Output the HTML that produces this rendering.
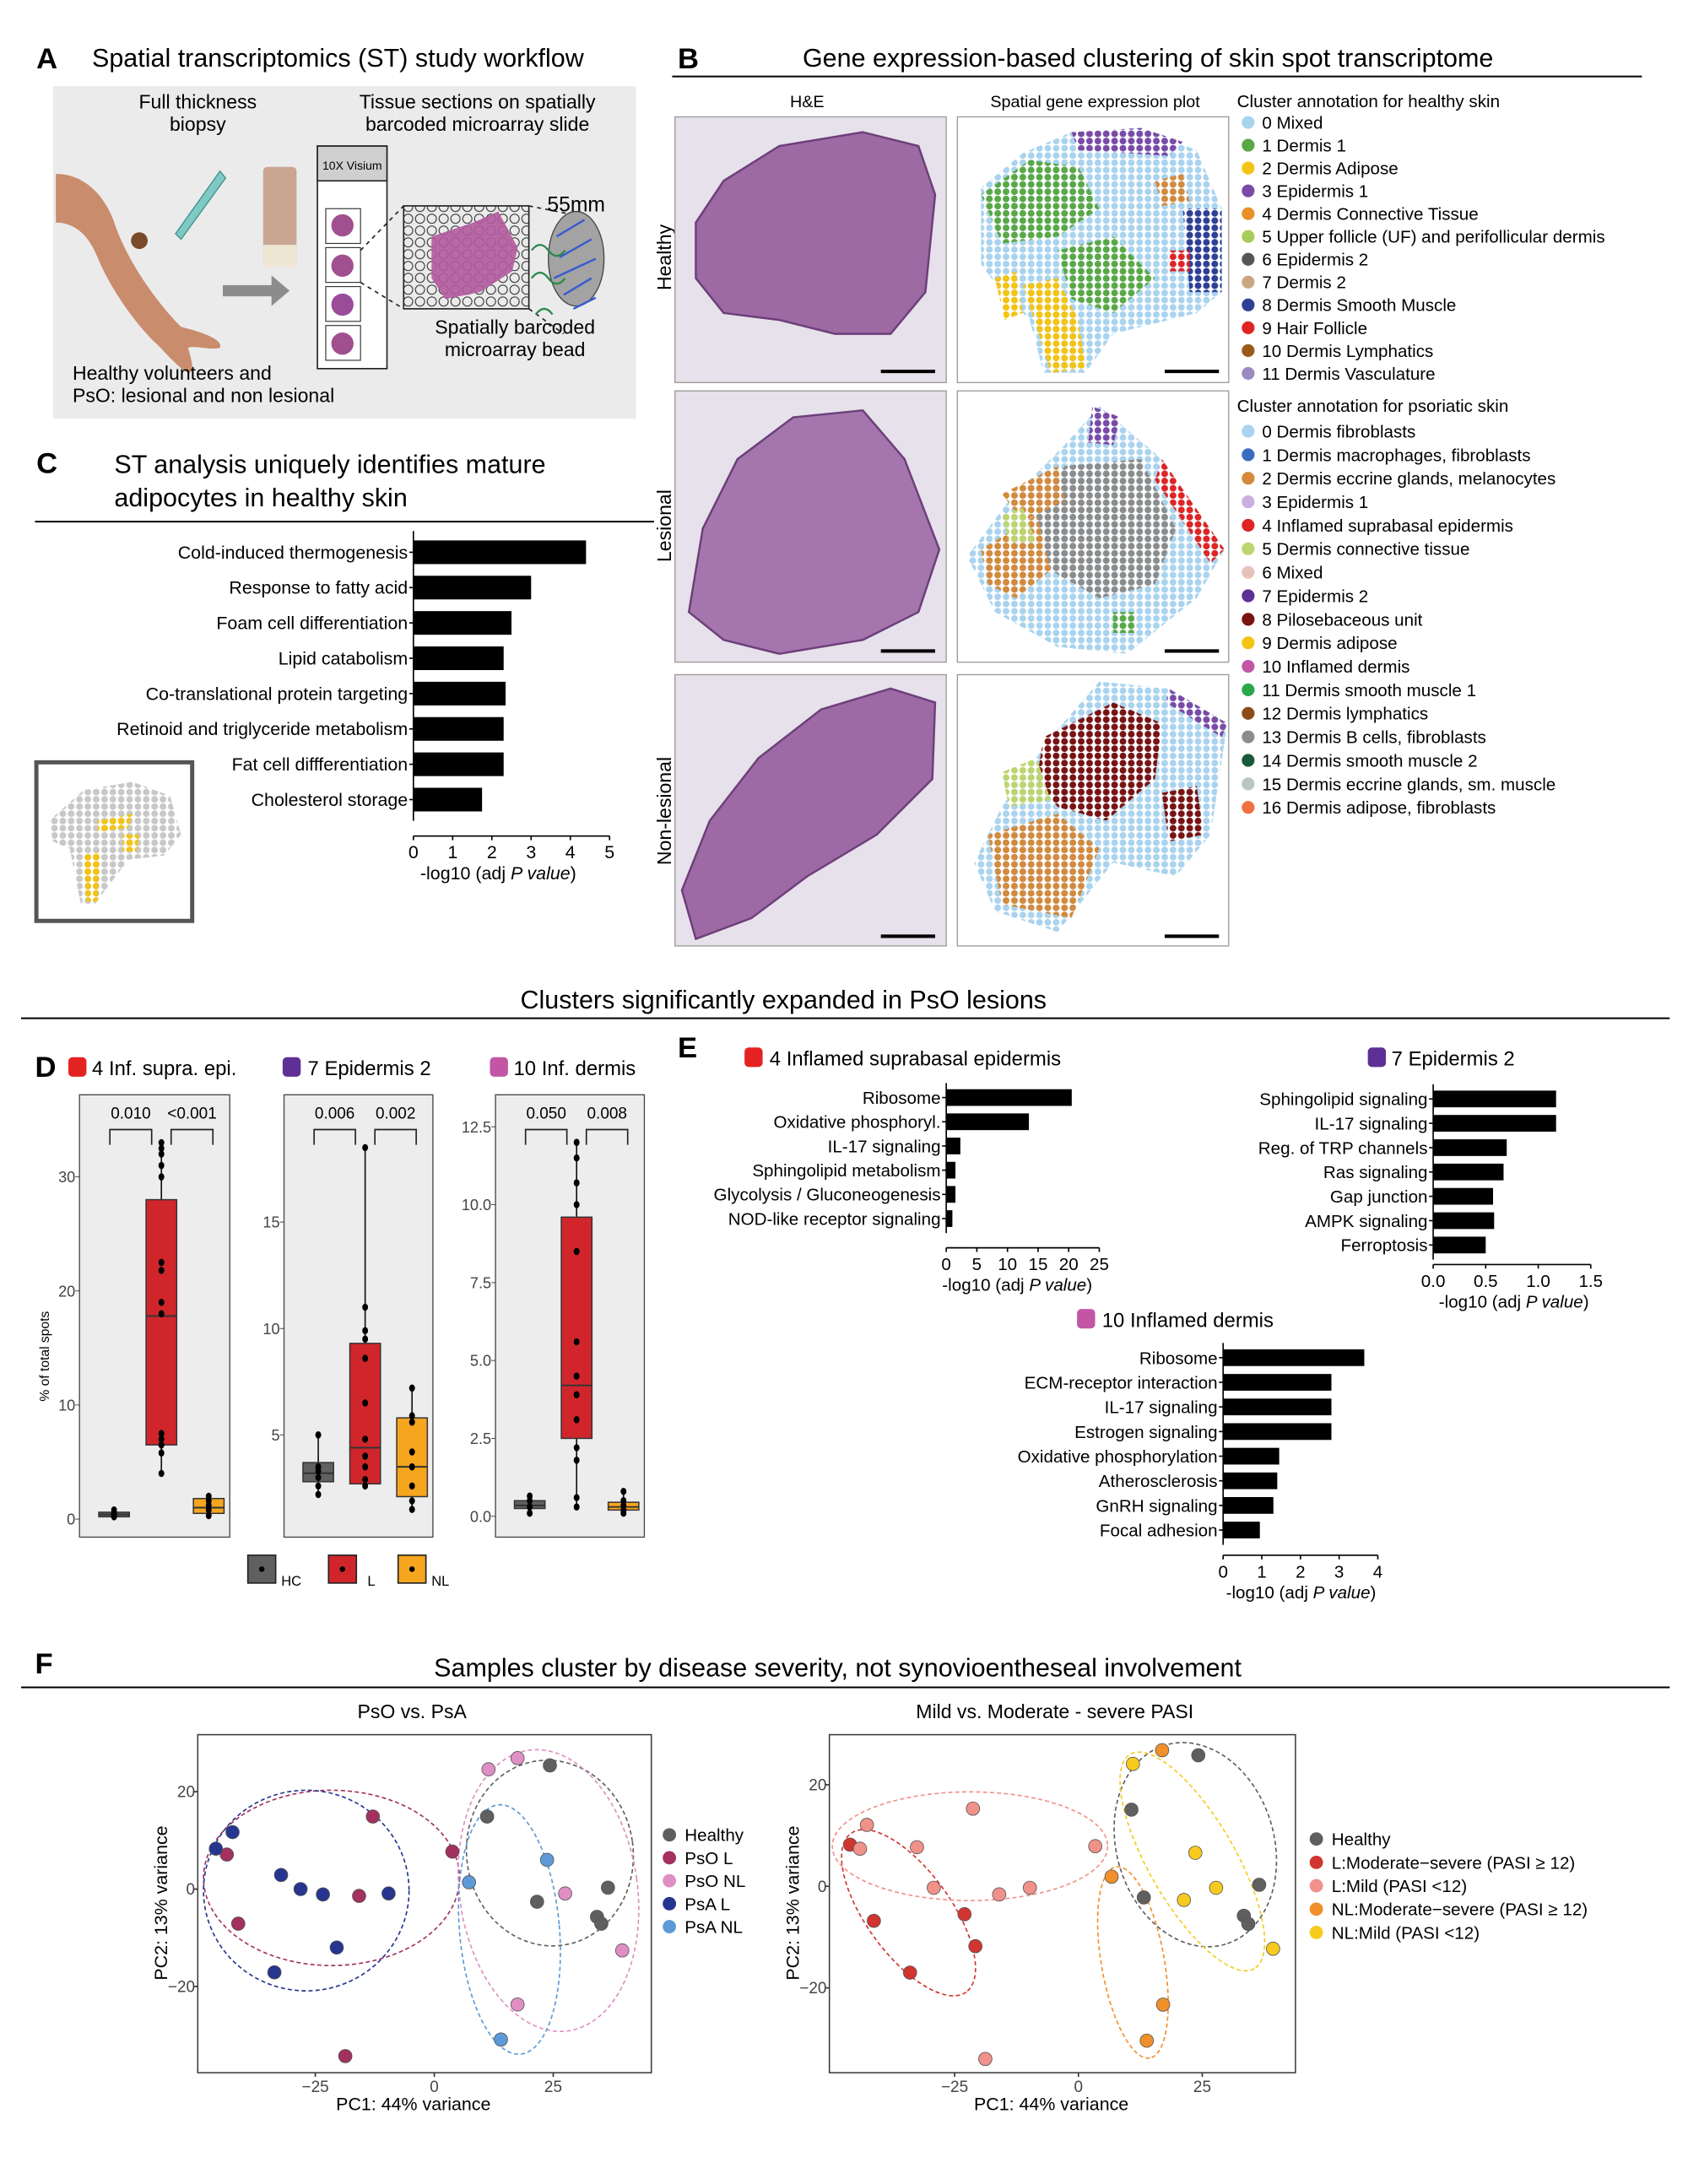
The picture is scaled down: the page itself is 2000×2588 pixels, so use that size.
<!DOCTYPE html>
<html><head><meta charset="utf-8"><style>
html,body{margin:0;padding:0;background:#fff}
svg{display:block;font-family:"Liberation Sans",Arial,sans-serif}
</style></head><body>
<svg id="fig" width="2000" height="2588" viewBox="0 0 1213 1570" xmlns="http://www.w3.org/2000/svg">
<defs>
<pattern id="p-lb" width="6" height="5.2" patternUnits="userSpaceOnUse"><circle cx="3" cy="2.6" r="2.4" fill="#a9d3ee"/></pattern>
<pattern id="p-gr" width="6" height="5.2" patternUnits="userSpaceOnUse"><circle cx="3" cy="2.6" r="2.4" fill="#5aa845"/></pattern>
<pattern id="p-ye" width="6" height="5.2" patternUnits="userSpaceOnUse"><circle cx="3" cy="2.6" r="2.4" fill="#f3c413"/></pattern>
<pattern id="p-nv" width="6" height="5.2" patternUnits="userSpaceOnUse"><circle cx="3" cy="2.6" r="2.4" fill="#2f3f95"/></pattern>
<pattern id="p-pu" width="6" height="5.2" patternUnits="userSpaceOnUse"><circle cx="3" cy="2.6" r="2.4" fill="#7a4aa6"/></pattern>
<pattern id="p-gy" width="6" height="5.2" patternUnits="userSpaceOnUse"><circle cx="3" cy="2.6" r="2.4" fill="#8c8c8c"/></pattern>
<pattern id="p-lg" width="6" height="5.2" patternUnits="userSpaceOnUse"><circle cx="3" cy="2.6" r="2.4" fill="#c8c8c8"/></pattern>
<pattern id="p-or" width="6" height="5.2" patternUnits="userSpaceOnUse"><circle cx="3" cy="2.6" r="2.4" fill="#d48a3c"/></pattern>
<pattern id="p-rd" width="6" height="5.2" patternUnits="userSpaceOnUse"><circle cx="3" cy="2.6" r="2.4" fill="#e02424"/></pattern>
<pattern id="p-dr" width="6" height="5.2" patternUnits="userSpaceOnUse"><circle cx="3" cy="2.6" r="2.4" fill="#7a1212"/></pattern>
<pattern id="p-ol" width="6" height="5.2" patternUnits="userSpaceOnUse"><circle cx="3" cy="2.6" r="2.4" fill="#bcd56e"/></pattern>
<pattern id="p-grid" width="8.5" height="8.5" patternUnits="userSpaceOnUse"><circle cx="4.25" cy="4.25" r="3.3" fill="none" stroke="#222" stroke-width="0.6"/></pattern>
</defs>

<!-- Panel A -->
<text x="26" y="49" font-size="21" font-weight="bold">A</text>
<text x="66" y="48" font-size="18.5">Spatial transcriptomics (ST) study workflow</text>
<rect x="38" y="62" width="419" height="239" fill="#ebebec"/>
<text x="142" y="78" font-size="14" text-anchor="middle"><tspan x="142">Full thickness</tspan><tspan x="142" dy="16">biopsy</tspan></text>
<text x="343" y="78" font-size="14" text-anchor="middle"><tspan x="343">Tissue sections on spatially</tspan><tspan x="343" dy="16">barcoded microarray slide</tspan></text>
<path d="M40,125 C60,125 75,140 82,160 C92,190 115,220 130,235 C150,240 160,245 158,250 C150,252 140,248 135,250 C138,260 140,268 135,268 C125,262 118,252 110,245 C95,230 78,205 70,185 C62,165 50,160 40,160 Z" fill="#c98c6c"/>
<circle cx="100" cy="173" r="6" fill="#7a4a2a"/>
<path d="M158,123 L162,128 L130,172 L126,168 Z" fill="#7fc9c4" stroke="#3f8f8a" stroke-width="0.8"/>
<rect x="189" y="120" width="24" height="72" rx="3" fill="#c9a693"/>
<rect x="189" y="176" width="24" height="16" fill="#f0e6d4"/>
<path d="M160,205 L195,205 L195,198 L208,209 L195,220 L195,213 L160,213 Z" fill="#8c8c8c"/>
<rect x="228" y="105" width="50" height="160" fill="#fff" stroke="#222" stroke-width="1"/>
<rect x="228" y="105" width="50" height="25" fill="#cfcfcf" stroke="#222" stroke-width="1"/>
<text x="253" y="122" font-size="8.5" text-anchor="middle">10X Visium</text>
<g>
<rect x="234" y="150" width="25" height="25" fill="#fff" stroke="#333" stroke-width="0.7"/><rect x="234" y="178" width="25" height="25" fill="#fff" stroke="#333" stroke-width="0.7"/><rect x="234" y="206" width="25" height="25" fill="#fff" stroke="#333" stroke-width="0.7"/><rect x="234" y="234" width="25" height="25" fill="#fff" stroke="#333" stroke-width="0.7"/>
<circle cx="246" cy="162" r="8" fill="#a0508f"/><circle cx="246" cy="191" r="8" fill="#a0508f"/><circle cx="246" cy="219" r="8" fill="#9a4c98"/><circle cx="246" cy="247" r="8" fill="#a0508f"/>
</g>
<path d="M259,180 L290,148 M259,203 L290,222 M380,148 L415,155 M380,222 L405,240" stroke="#222" stroke-dasharray="3,3" stroke-width="1" fill="none"/>
<rect x="290" y="148" width="90" height="74" fill="url(#p-grid)" stroke="#222" stroke-width="1"/>
<path d="M310,170 L340,160 L358,152 L372,178 L368,195 L345,210 L320,215 L310,200 Z" fill="#b45a9e" opacity="0.9"/>
<ellipse cx="414" cy="186" rx="20" ry="34" fill="#a3a3a3" stroke="#444" stroke-width="0.8"/>
<path d="M400,170 L420,158 M402,185 L425,172 M398,200 L428,186 M405,212 L425,200 M412,222 L428,214" stroke="#3a5bd0" stroke-width="1.5"/>
<path d="M382,180 q6,-8 12,0 q6,8 12,0 M382,200 q6,-8 12,0 q6,8 12,0 M385,226 q6,-8 12,0" stroke="#2a8a4a" stroke-width="1.4" fill="none"/>
<text x="414" y="152" font-size="15" text-anchor="middle">55mm</text>
<text x="370" y="240" font-size="14" text-anchor="middle"><tspan x="370">Spatially barcoded</tspan><tspan x="370" dy="16">microarray bead</tspan></text>
<text x="52" y="273" font-size="14"><tspan x="52">Healthy volunteers and</tspan><tspan x="52" dy="16">PsO: lesional and non lesional</tspan></text>

<!-- Panel B -->
<text x="487" y="49" font-size="21" font-weight="bold">B</text>
<text x="825" y="48" font-size="18.5" text-anchor="middle">Gene expression-based clustering of skin spot transcriptome</text>
<line x1="483" y1="55" x2="1180" y2="55" stroke="#000" stroke-width="1.2"/>
<text x="580" y="77" font-size="12" text-anchor="middle">H&amp;E</text>
<text x="787" y="77" font-size="12" text-anchor="middle">Spatial gene expression plot</text>
<text transform="translate(482,185) rotate(-90)" font-size="14" text-anchor="middle">Healthy</text>
<text transform="translate(482,378) rotate(-90)" font-size="14" text-anchor="middle">Lesional</text>
<text transform="translate(482,583) rotate(-90)" font-size="14" text-anchor="middle">Non-lesional</text>

<g>
<rect x="485" y="84" width="195" height="191" fill="#e6e1ea" stroke="#999" stroke-width="0.8"/>
<polygon points="500,160 520,130 560,105 620,95 660,105 672,140 665,210 640,240 600,240 560,230 520,225 500,200" fill="#9d6aa3" stroke="#6d3f7a" stroke-width="1.5"/>
<line x1="633" y1="267" x2="672" y2="267" stroke="#000" stroke-width="2.5"/>
</g>
<g>
<rect x="485" y="281" width="195" height="195" fill="#e6e1ea" stroke="#999" stroke-width="0.8"/>
<polygon points="495,440 505,380 530,330 570,300 620,295 650,330 675,395 660,440 620,460 560,470 520,460" fill="#a575ae" stroke="#6d3f7a" stroke-width="1.5"/>
<line x1="633" y1="468" x2="672" y2="468" stroke="#000" stroke-width="2.5"/>
</g>
<g>
<rect x="485" y="485" width="195" height="195" fill="#e6e1ea" stroke="#999" stroke-width="0.8"/>
<polygon points="490,640 510,590 545,545 590,510 640,495 672,505 670,560 630,600 580,630 540,660 500,675" fill="#9e6aa5" stroke="#6d3f7a" stroke-width="1.5"/>
<line x1="633" y1="673" x2="672" y2="673" stroke="#000" stroke-width="2.5"/>
</g>
<g>
<rect x="688" y="84" width="195" height="191" fill="#fff" stroke="#999" stroke-width="0.8"/>
<polygon points="705,135 735,110 770,95 820,92 860,108 878,150 878,210 860,225 800,240 780,268 750,268 740,230 720,210 705,190" fill="url(#p-lb)"/>
<polygon points="705,140 740,115 775,120 790,150 760,170 720,175" fill="url(#p-gr)"/>
<polygon points="760,180 800,170 830,200 800,225 770,215" fill="url(#p-gr)"/>
<polygon points="735,205 760,200 775,230 780,265 755,268 745,235" fill="url(#p-ye)"/>
<polygon points="715,200 730,195 735,225 722,230" fill="url(#p-ye)"/>
<polygon points="850,150 878,150 878,210 855,210" fill="url(#p-nv)"/>
<polygon points="770,95 820,92 850,102 840,112 775,108" fill="url(#p-pu)"/>
<polygon points="840,180 855,180 855,195 840,195" fill="url(#p-rd)"/>
<polygon points="830,130 850,125 855,145 835,148" fill="url(#p-or)"/>
<line x1="837" y1="267" x2="876" y2="267" stroke="#000" stroke-width="2.5"/>
</g>
<g>
<rect x="688" y="281" width="195" height="195" fill="#fff" stroke="#999" stroke-width="0.8"/>
<polygon points="790,292 835,330 880,395 860,430 810,470 760,465 715,440 695,400 725,360 765,320" fill="url(#p-lb)"/>
<polygon points="765,335 820,330 845,380 830,420 790,430 755,410 745,370" fill="url(#p-gy)"/>
<polygon points="705,395 745,370 755,410 730,430 710,420" fill="url(#p-or)"/>
<polygon points="720,355 760,335 765,360 735,375" fill="url(#p-or)"/>
<polygon points="835,330 880,395 870,405 830,345" fill="url(#p-rd)"/>
<polygon points="785,292 805,300 800,320 782,318" fill="url(#p-pu)"/>
<polygon points="720,370 735,365 745,390 725,390" fill="url(#p-ol)"/>
<polygon points="800,440 815,440 815,455 800,455" fill="url(#p-gr)"/>
<line x1="837" y1="468" x2="876" y2="468" stroke="#000" stroke-width="2.5"/>
</g>
<g>
<rect x="688" y="485" width="195" height="195" fill="#fff" stroke="#999" stroke-width="0.8"/>
<polygon points="790,490 840,495 882,520 870,600 845,630 800,620 760,670 715,655 700,620 720,580 755,530" fill="url(#p-lb)"/>
<polygon points="750,530 800,505 835,520 830,560 795,590 760,580 745,560" fill="url(#p-dr)"/>
<polygon points="835,570 860,565 865,600 840,605" fill="url(#p-dr)"/>
<polygon points="710,600 760,585 790,610 770,660 720,650" fill="url(#p-or)"/>
<polygon points="720,555 745,545 755,575 725,580" fill="url(#p-ol)"/>
<polygon points="840,495 882,520 878,530 838,505" fill="url(#p-pu)"/>
<line x1="837" y1="673" x2="876" y2="673" stroke="#000" stroke-width="2.5"/>
</g>
<g id="legends"></g>

<!-- Panel C -->
<text x="26" y="340" font-size="21" font-weight="bold">C</text>
<text x="82" y="340" font-size="18.5"><tspan x="82">ST analysis uniquely identifies mature</tspan><tspan x="82" dy="24">adipocytes in healthy skin</tspan></text>
<line x1="25" y1="375" x2="470" y2="375" stroke="#000" stroke-width="1.2"/>
<g>
<rect x="26" y="548" width="112" height="114" fill="#fff" stroke="#555" stroke-width="3"/>
<polygon points="35,590 60,568 95,562 122,572 130,600 118,615 92,618 68,650 58,650 50,610 38,605" fill="url(#p-lg)"/>
<polygon points="70,590 95,585 92,595 70,598" fill="url(#p-ye)"/>
<polygon points="60,615 72,612 70,648 62,648" fill="url(#p-ye)"/>
<polygon points="88,600 100,600 98,612 88,612" fill="url(#p-ye)"/>
</g>

<!-- Middle title -->
<text x="563" y="725" font-size="18.5" text-anchor="middle">Clusters significantly expanded in PsO lesions</text>
<line x1="15" y1="732" x2="1200" y2="732" stroke="#000" stroke-width="1.2"/>

<!-- Panel D -->
<text x="25" y="774" font-size="21" font-weight="bold">D</text>
<rect x="49" y="760" width="13" height="14" rx="3" fill="#e42222"/>
<text x="66" y="773" font-size="14.5">4 Inf. supra. epi.</text>
<rect x="203" y="760" width="13" height="14" rx="3" fill="#5e2f95"/>
<text x="221" y="773" font-size="14.5">7 Epidermis 2</text>
<rect x="352" y="760" width="13" height="14" rx="3" fill="#c256a5"/>
<text x="369" y="773" font-size="14.5">10 Inf. dermis</text>
<text transform="translate(35,975) rotate(-90)" font-size="9.5" text-anchor="middle">% of total spots</text>
<g id="boxes"></g>
<g>
<rect x="178" y="1118" width="20" height="20" fill="#606060" stroke="#222"/><circle cx="188" cy="1128" r="2" fill="#000"/><text x="202" y="1140" font-size="10">HC</text>
<rect x="236" y="1118" width="20" height="20" fill="#d0262b" stroke="#222"/><circle cx="246" cy="1128" r="2" fill="#000"/><text x="264" y="1140" font-size="10">L</text>
<rect x="286" y="1118" width="20" height="20" fill="#f6a51e" stroke="#222"/><circle cx="296" cy="1128" r="2" fill="#000"/><text x="310" y="1140" font-size="10">NL</text>
</g>

<!-- Panel E -->
<text x="487" y="760" font-size="21" font-weight="bold">E</text>
<rect x="535" y="753" width="13" height="14" rx="3" fill="#e42222"/>
<text x="553" y="766" font-size="14.5">4 Inflamed suprabasal epidermis</text>
<rect x="983" y="753" width="13" height="14" rx="3" fill="#5e2f95"/>
<text x="1000" y="766" font-size="14.5">7 Epidermis 2</text>
<rect x="774" y="941" width="13" height="14" rx="3" fill="#c256a5"/>
<text x="792" y="954" font-size="14.5">10 Inflamed dermis</text>
<g id="bars"></g>

<!-- Panel F -->
<text x="25" y="1203" font-size="21" font-weight="bold">F</text>
<text x="602" y="1205" font-size="18.5" text-anchor="middle">Samples cluster by disease severity, not synovioentheseal involvement</text>
<line x1="15" y1="1213" x2="1200" y2="1213" stroke="#000" stroke-width="1.2"/>
<text x="296" y="1235" font-size="14" text-anchor="middle">PsO vs. PsA</text>
<text x="758" y="1235" font-size="14" text-anchor="middle">Mild vs. Moderate - severe PASI</text>
<g id="pca"></g>
</svg>

<script>
const NS='http://www.w3.org/2000/svg';
function mk(tag,attrs,parent){const e=document.createElementNS(NS,tag);for(const k in attrs)e.setAttribute(k,attrs[k]);parent.appendChild(e);return e;}
function tx(parent,x,y,s,size,anchor){const e=mk('text',{x:x,y:y,'font-size':size,'text-anchor':anchor||'start'},parent);e.textContent=s;return e;}

/* ---------- Legends for panel B ---------- */
const healthyClusters=['0 Mixed','1 Dermis 1','2 Dermis Adipose','3 Epidermis 1','4 Dermis Connective Tissue','5 Upper follicle (UF) and perifollicular dermis','6 Epidermis 2','7 Dermis 2','8 Dermis Smooth Muscle','9 Hair Follicle','10 Dermis Lymphatics','11 Dermis Vasculature'];
const healthyColors=['#a9d3ee','#5aa845','#f3c413','#7a4aa6','#e8902a','#a8cc5a','#555555','#c9a583','#2f3f95','#e02424','#9a5a1a','#9a8ac0'];
const psoClusters=['0 Dermis fibroblasts','1 Dermis macrophages, fibroblasts','2 Dermis eccrine glands, melanocytes','3 Epidermis 1','4 Inflamed suprabasal epidermis','5 Dermis connective tissue','6 Mixed','7 Epidermis 2','8 Pilosebaceous unit','9 Dermis adipose','10 Inflamed dermis','11 Dermis smooth muscle 1','12 Dermis lymphatics','13 Dermis B cells, fibroblasts','14 Dermis smooth muscle 2','15 Dermis eccrine glands, sm. muscle','16 Dermis adipose, fibroblasts'];
const psoColors=['#a9d3ee','#3a6cc0','#d48a3c','#c9b0e0','#e02424','#bcd56e','#e8c2b8','#5e2f95','#7a1212','#f3c413','#c256a5','#2aa84a','#8a4a1a','#8c8c8c','#1a5a3a','#b8c8c0','#f07040'];
const lg=document.getElementById('legends');
let t=tx(lg,889,77,'Cluster annotation for healthy skin',12.5);


healthyClusters.forEach((c,i)=>{const y=88+i*16.4;
 const d=mk('circle',{cx:897,cy:y,r:4.6,fill:healthyColors[i]},lg);
 
 
 const l=tx(lg,907,y+4.5,c,12.5);
 
 });
t=tx(lg,889,296,'Cluster annotation for psoriatic skin',12.5);


psoClusters.forEach((c,i)=>{const y=310+i*16.9;
 const d=mk('circle',{cx:897,cy:y,r:4.6,fill:psoColors[i]},lg);
 
 
 const l=tx(lg,907,y+4.5,c,12.5);
 
 });

/* ---------- Bar charts ---------- */
const cLabels=['Cold-induced thermogenesis','Response to fatty acid','Foam cell differentiation','Lipid catabolism','Co-translational protein targeting','Retinoid and triglyceride metabolism','Fat cell diffferentiation','Cholesterol storage'];
const cValues=[4.4,3.0,2.5,2.3,2.35,2.3,2.3,1.75];
const cTicks=[0,1,2,3,4,5];
const e4Labels=['Ribosome','Oxidative phosphoryl.','IL-17 signaling','Sphingolipid metabolism','Glycolysis / Gluconeogenesis','NOD-like receptor signaling'];
const e4Values=[20.5,13.5,2.3,1.5,1.5,1.0];
const e4Ticks=[0,5,10,15,20,25];
const e7Labels=['Sphingolipid signaling','IL-17 signaling','Reg. of TRP channels','Ras signaling','Gap junction','AMPK signaling','Ferroptosis'];
const e7Values=[1.17,1.17,0.7,0.67,0.57,0.58,0.5];
const e7Ticks=[0,0.5,1.0,1.5];
const e7TickLabels=['0.0','0.5','1.0','1.5'];
const e10Labels=['Ribosome','ECM-receptor interaction','IL-17 signaling','Estrogen signaling','Oxidative phosphorylation','Atherosclerosis','GnRH signaling','Focal adhesion'];
const e10Values=[3.65,2.8,2.8,2.8,1.45,1.4,1.3,0.95];
const e10Ticks=[0,1,2,3,4];

const bg=document.getElementById('bars');
function barChart(nm,labels,vals,ticks,tickLabels,o){
 const g=mk('g',{},bg);
 
 
 const sx=v=>o.x0+v*o.px;
 const top=o.y0-o.dy*0.6,bot=o.y0+o.dy*(labels.length-1)+o.dy*0.6;
 const ax=mk('line',{x1:o.x0,y1:top,x2:o.x0,y2:bot,stroke:'#000','stroke-width':1},g);
 
 
 const xa=mk('line',{x1:sx(ticks[0]),y1:o.axisY,x2:sx(ticks[ticks.length-1]),y2:o.axisY,stroke:'#000','stroke-width':1},g);
 
 
 labels.forEach((l,i)=>{const y=o.y0+i*o.dy;
  const r=mk('rect',{x:o.x0,y:y-o.bh/2,width:vals[i]*o.px,height:o.bh,fill:'#000'},g);
  
  
  const tk=mk('line',{x1:o.x0-3,y1:y,x2:o.x0,y2:y,stroke:'#000'},g);
  
  
  const lt=tx(g,o.x0-4,y+4.5,l,o.fs,'end');
  
  });
 ticks.forEach((v,i)=>{
  const tk=mk('line',{x1:sx(v),y1:o.axisY,x2:sx(v),y2:o.axisY+3,stroke:'#000'},g);
  
  
  const lt=tx(g,sx(v),o.axisY+16,tickLabels?tickLabels[i]:String(v),o.fs,'middle');
  
  });
 const tt=mk('text',{x:o.titleX,y:o.axisY+31,'font-size':o.fs,'text-anchor':'middle'},g);
 tt.innerHTML='-log10 (adj <tspan font-style="italic">P value</tspan>)';
 
 
}
barChart('chart-c',cLabels,cValues,cTicks,null,{x0:297,px:28.2,y0:397,dy:25.4,bh:17,axisY:601,fs:13,titleX:358});
barChart('chart-e4',e4Labels,e4Values,e4Ticks,null,{x0:680,px:4.4,y0:789,dy:17.4,bh:12,axisY:897,fs:12.5,titleX:731});
barChart('chart-e7',e7Labels,e7Values,e7Ticks,e7TickLabels,{x0:1030,px:75.5,y0:790,dy:17.5,bh:12,axisY:909,fs:12.5,titleX:1088});
barChart('chart-e10',e10Labels,e10Values,e10Ticks,null,{x0:879,px:27.8,y0:976,dy:17.7,bh:12,axisY:1118,fs:12.5,titleX:935});

/* ---------- Box plots (panel D) ---------- */
const boxGroups=['HC','L','NL'];
const boxColors=['#606060','#d0262b','#f6a51e'];
const d4Q1=[0.2,6.5,0.5], d4Med=[0.4,17.8,1.0], d4Q3=[0.6,28,1.8], d4Lo=[0.1,4,0.2], d4Hi=[0.8,33,2.0];
const d4Pts=[[0.3,0.5,0.8,0.2],[33,32.5,32,31,30,22.5,21.8,19,18,7.5,7,6.5,5.8,4],[0.3,0.8,1.2,1.6,2.0]];
const d4Ticks=[0,10,20,30];
const d7Q1=[2.8,2.7,2.1], d7Med=[3.2,4.4,3.5], d7Q3=[3.7,9.3,5.8], d7Lo=[2.3,2.5,1.5], d7Hi=[5.0,18.5,7.2];
const d7Pts=[[2.2,2.6,3.0,3.3,3.5,5.0],[18.5,11,9.9,9.5,8.6,6.5,4.8,4.0,3.5,2.9,2.6],[7.2,5.9,5.6,4.2,3.5,2.6,1.9,1.5]];
const d7Ticks=[5,10,15];
const d10Q1=[0.25,2.5,0.2], d10Med=[0.35,4.2,0.3], d10Q3=[0.5,9.6,0.45], d10Lo=[0.1,0.3,0.1], d10Hi=[0.7,12,0.8];
const d10Pts=[[0.1,0.3,0.5,0.65],[12,11.5,10.7,10,8.5,5.6,4.5,3.9,3.1,2.2,1.8,0.6,0.3],[0.1,0.2,0.35,0.5,0.8]];
const d10Ticks=[0,2.5,5,7.5,10,12.5];
const d10TickLabels=['0.0','2.5','5.0','7.5','10.0','12.5'];
const d4Pvals=['0.010','<0.001'], d7Pvals=['0.006','0.002'], d10Pvals=['0.050','0.008'];

const bx=document.getElementById('boxes');
function boxPlot(nm,q1,med,q3,lo,hi,pts,ticks,tickLabels,pvals,o){
 const g=mk('g',{},bx);
 
 
 const sy=v=>o.zeroY-v*o.py;
 const panel=mk('rect',{x:o.x,y:787,width:o.w,height:318,fill:'#ededed',stroke:'#444','stroke-width':0.8},g);
 
 
 ticks.forEach((v,i)=>{
  const tk=mk('line',{x1:o.x-3,y1:sy(v),x2:o.x,y2:sy(v),stroke:'#444','stroke-width':0.6},g);
  
  
  const lt=tx(g,o.x-3,sy(v)+4,tickLabels?tickLabels[i]:String(v),11,'end');
  lt.setAttribute('fill','#444');
  
  });
 const cx=[o.x+o.w*0.23,o.x+o.w*0.545,o.x+o.w*0.86];
 boxGroups.forEach((gname,i)=>{
  const w=mk('line',{x1:cx[i],y1:sy(lo[i]),x2:cx[i],y2:sy(hi[i]),stroke:'#111','stroke-width':1},g);
  
  
  const b=mk('rect',{x:cx[i]-11,y:sy(q3[i]),width:22,height:Math.max(1.5,sy(q1[i])-sy(q3[i])),fill:boxColors[i],stroke:'#333','stroke-width':0.9},g);
  
  
  const m=mk('line',{x1:cx[i]-11,y1:sy(med[i]),x2:cx[i]+11,y2:sy(med[i]),stroke:'#333','stroke-width':1.2},g);
  
  
  pts[i].forEach(v=>{const p=mk('ellipse',{cx:cx[i],cy:sy(v),rx:2.1,ry:2.6,fill:'#000'},g);
   
   });});
 [[0,1],[1,2]].forEach((pr,k)=>{
  const a=k==0?cx[0]-3:cx[1]+7, c=k==0?cx[1]-7:cx[2]+3;
  const br=mk('path',{d:`M${a},823 L${a},812 L${c},812 L${c},823`,fill:'none',stroke:'#222','stroke-width':1},g);
  
  
  const pl=tx(g,(a+c)/2,804,pvals[k],11.5,'middle');
  
  });
}
boxPlot('boxplot-4',d4Q1,d4Med,d4Q3,d4Lo,d4Hi,d4Pts,d4Ticks,null,d4Pvals,{x:57,w:108,zeroY:1092,py:8.2});
boxPlot('boxplot-7',d7Q1,d7Med,d7Q3,d7Lo,d7Hi,d7Pts,d7Ticks,null,d7Pvals,{x:204,w:107,zeroY:1108,py:15.3});
boxPlot('boxplot-10',d10Q1,d10Med,d10Q3,d10Lo,d10Hi,d10Pts,d10Ticks,d10TickLabels,d10Pvals,{x:356,w:107,zeroY:1090,py:22.4});

/* ---------- PCA plots (panel F) ---------- */
const pca1Groups=['Healthy','PsO L','PsO NL','PsA L','PsA NL'];
const pca1Colors=['#5f5f5f','#a3305f','#df8fc3','#26358f','#5b9ad6'];
const pca1X=[[24.3,11.1,21.6,36.5,34.2,35.1],[-12.9,3.8,-43.6,-41.2,-15.8,-18.7],[11.4,17.5,27.5,39.5,17.5],[-42.4,-45.9,-32.2,-28.1,-23.4,-9.6,-20.5,-33.6],[7.3,23.7,14]];
const pca1Y=[[25.4,14.9,-2.6,0.3,-5.7,-7.1],[14.9,7.7,7.1,-7.1,-1.4,-34.3],[24.6,26.9,-0.9,-12.6,-23.7],[11.7,8.3,2.9,0,-1.1,-0.9,-12,-17.1],[1.4,6,-30.9]];
const pca1EllCx=[24.3,-21.6,24,-26.9,15.8], pca1EllCy=[7.4,2.3,-0.3,-0.3,-8.3];
const pca1EllA=[17.5,26.9,18.7,21.6,10.5], pca1EllB=[19.1,18,29.1,20.6,25.7], pca1EllAng=[8,0,8,0,5];
const pca2Groups=['Healthy','L:Moderate\u2212severe (PASI \u2265 12)','L:Mild (PASI <12)','NL:Moderate\u2212severe (PASI \u2265 12)','NL:Mild (PASI <12)'];
const pca2Colors=['#5f5f5f','#d13530','#f0918a','#f0902a','#f7cb1e'];
const pca2X=[[24.2,10.7,13.2,36.5,33.4,34.3],[-46.1,-41.3,-34,-23,-20.8],[-42.7,-44.1,-29.2,-32.6,-21.3,-16,-9.8,3.4,-18.8],[16.9,6.7,17.1,13.8],[11,23.6,21.3,27.8,39.3]];
const pca2Y=[[25.8,15.1,-2.2,0.3,-5.8,-7.4],[8.2,-6.8,-17,-5.5,-11.8],[12.1,7.4,-0.3,7.7,15.3,-1.6,-0.3,7.9,-34],[26.8,1.9,-23.3,-30.4],[24.1,6.6,-2.7,-0.3,-12.3]];
const pca2EllCx=[23.6,-34.3,-21.9,11,23], pca2EllCy=[8.2,-5.2,7.9,-15,4.9];
const pca2EllA=[21,19.8,27.8,19.6,25], pca2EllB=[15.5,8.3,10.7,6.2,8.5], pca2EllAng=[-73,-54,0,-80,-60];
const pcaTicks=[-25,0,25];
const pcaYTicks=[-20,0,20];

const pg=document.getElementById('pca');
function pcaPlot(nm,groups,colors,X,Y,E,o){
 const g=mk('g',{},pg);
 
 
 const sx=v=>o.x0+v*o.px, sy=v=>o.y0-v*o.py;
 const fr=mk('rect',{x:o.left,y:1247,width:o.right-o.left,height:243,fill:'#fff',stroke:'#333','stroke-width':0.9},g);
 
 
 pcaTicks.forEach(v=>{const tk=mk('line',{x1:sx(v),y1:1490,x2:sx(v),y2:1493,stroke:'#333'},g);
  
  
  const l=tx(g,sx(v),1504,v==0?'0':String(v).replace('-','\u2212'),11.5,'middle');
  l.setAttribute('fill','#444');
  
  });
 pcaYTicks.forEach(v=>{const tk=mk('line',{x1:o.left-3,y1:sy(v),x2:o.left,y2:sy(v),stroke:'#333'},g);
  
  
  const l=tx(g,o.left-2,sy(v)+4,v==0?'0':String(v).replace('-','\u2212'),11.5,'end');
  l.setAttribute('fill','#444');
  
  });
 const xt=tx(g,(o.left+o.right)/2-8,1517,'PC1: 44% variance',13,'middle');
 
 
 const yt=mk('text',{transform:`translate(${o.left-22},1368) rotate(-90)`,'font-size':13,'text-anchor':'middle'},g);
 yt.textContent='PC2: 13% variance';
 
 
 groups.forEach((gr,i)=>{
  const cx=sx(E.cx[i]),cy=sy(E.cy[i]);
  const e=mk('ellipse',{cx:cx,cy:cy,rx:E.a[i]*o.px,ry:E.b[i]*o.py,fill:'none',stroke:colors[i],'stroke-width':1,'stroke-dasharray':'3,2',transform:`rotate(${-E.ang[i]} ${cx} ${cy})`},g);
  
  });
 groups.forEach((gr,i)=>{
  X[i].forEach((v,j)=>{const p=mk('circle',{cx:sx(v),cy:sy(Y[i][j]),r:4.8,fill:colors[i],stroke:'#555','stroke-width':0.5},g);
   
   });
  const ly=o.legY+i*o.legDy;
  const ld=mk('circle',{cx:o.legX,cy:ly,r:4.8,fill:colors[i]},g);
  
  
  const lt=tx(g,o.legX+11,ly+4.5,gr,12.5);
  
  });
}
pcaPlot('pca-pso-vs-psa',pca1Groups,pca1Colors,pca1X,pca1Y,{cx:pca1EllCx,cy:pca1EllCy,a:pca1EllA,b:pca1EllB,ang:pca1EllAng},{left:142,right:468,x0:312,px:3.42,y0:1358,py:3.5,legX:481,legY:1319,legDy:16.5});
pcaPlot('pca-severity',pca2Groups,pca2Colors,pca2X,pca2Y,{cx:pca2EllCx,cy:pca2EllCy,a:pca2EllA,b:pca2EllB,ang:pca2EllAng},{left:596,right:931,x0:775,px:3.56,y0:1356,py:3.65,legX:946,legY:1322,legDy:16.8});
</script>
</body></html>
